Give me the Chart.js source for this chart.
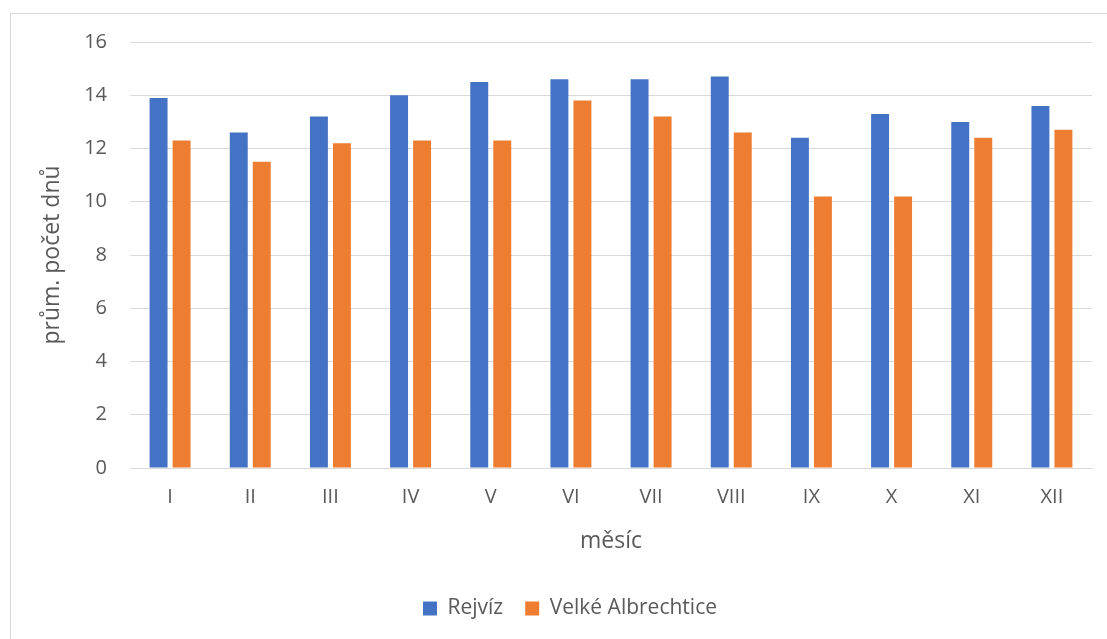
<!DOCTYPE html>
<html>
<head>
<meta charset="utf-8">
<script src="https://cdn.jsdelivr.net/npm/chart.js@4/dist/chart.umd.min.js"></script>
<style>
  html, body { margin: 0; padding: 0; background: #fff; overflow: hidden; }
  #wrap { position: relative; width: 1107px; height: 639px; }
  #frame { position: absolute; left: 10px; top: 13px; width: 1200px; height: 700px; border: 1px solid #d9d9d9; box-sizing: border-box; }
  #c { position: absolute; left: 0; top: 0; }
</style>
</head>
<body>
<div id="wrap">
  <div id="frame"></div>
  <canvas id="c" width="1107" height="639"></canvas>
</div>
<script>
// Měsíce a průměrné počty dnů pro obě stanice
const months = ['I', 'II', 'III', 'IV', 'V', 'VI', 'VII', 'VIII', 'IX', 'X', 'XI', 'XII'];
const rejviz = [13.9, 12.6, 13.2, 14.0, 14.5, 14.6, 14.6, 14.7, 12.4, 13.3, 13.0, 13.6];
const velkeAlbrechtice = [12.3, 11.5, 12.2, 12.3, 12.3, 13.8, 13.2, 12.6, 10.2, 10.2, 12.4, 12.7];
const yTicks = [0, 2, 4, 6, 8, 10, 12, 14, 16];

const FONT = '"Open Sans", "Noto Sans", sans-serif';
const TEXT = '#595959';

// Legenda je vycentrovaná pod celou plochou rámečku, ne pod osou grafu
const legendShift = {
  id: 'legendShift',
  afterLayout(chart) {
    const lg = chart.legend;
    if (lg) { lg.left += 24; lg.right += 24; }
  }
};

new Chart(document.getElementById('c'), {
  type: 'bar',
  data: {
    labels: months,
    datasets: [
      { label: 'Rejvíz', data: rejviz, backgroundColor: '#4472c4', categoryPercentage: 0.574, barPercentage: 0.78 },
      { label: 'Velké Albrechtice', data: velkeAlbrechtice, backgroundColor: '#ed7d31', categoryPercentage: 0.574, barPercentage: 0.78 }
    ]
  },
  plugins: [legendShift],
  options: {
    responsive: false,
    animation: false,
    layout: { padding: { left: 0, right: 15, top: 42, bottom: 10 } },
    plugins: {
      tooltip: { enabled: false },
      legend: {
        position: 'bottom',
        labels: {
          color: TEXT,
          font: { family: FONT, size: 21 },
          boxWidth: 14, boxHeight: 14,
          padding: 22
        }
      }
    },
    scales: {
      x: {
        grid: { display: false, drawTicks: false },
        border: { display: true, color: '#d9d9d9', width: 1 },
        ticks: { color: TEXT, font: { family: FONT, size: 20 }, padding: 17 },
        title: { display: true, text: 'měsíc', color: TEXT, font: { family: FONT, size: 23 }, padding: { top: 0, bottom: 21 } },
        afterFit: s => { s.height = 108; }
      },
      y: {
        min: 0, max: 16,
        afterBuildTicks: s => { s.ticks = yTicks.map(v => ({ value: v })); },
        grid: { color: '#d9d9d9', lineWidth: 1, drawTicks: false },
        border: { display: false },
        ticks: { color: TEXT, font: { family: FONT, size: 20 }, padding: 23 },
        title: { display: true, text: 'prům. počet dnů', color: TEXT, font: { family: FONT, size: 23 }, padding: { top: 39, bottom: 0 } },
        afterFit: s => { s.width = 130; }
      }
    }
  }
});
</script>
</body>
</html>
